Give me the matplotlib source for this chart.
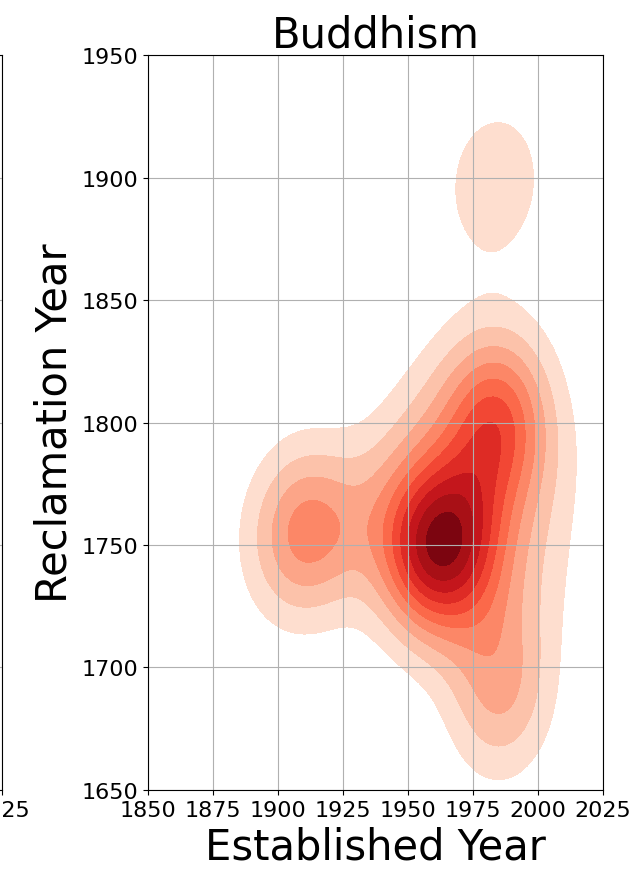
import matplotlib
matplotlib.use("Agg")
import matplotlib.pyplot as plt
import numpy as np
from matplotlib.ticker import MaxNLocator
from seaborn.external.kde import gaussian_kde

# hand-read sample of temples (established year, reclamation year)
established = [
    1950, 1953, 1955, 1957, 1958, 1960, 1961, 1963, 1964, 1965, 1967, 1955, 1960, 1962, 1966, 1970,
    1983, 1984, 1985, 1983, 1985, 1982, 1986, 1984,
    1972, 1978, 1980, 1976,
    1900, 1905, 1910, 1915, 1908, 1920, 1910, 1915,
    1932, 1940,
    1950, 1960, 1970, 1978, 1990,
    1975, 1982, 1985, 1988, 1990, 1980, 1985,
    2000, 2003, 2000,
    1979, 1983, 1988,
]
reclamation = [
    1745, 1755, 1750, 1740, 1752, 1758, 1748, 1745, 1752, 1755, 1740, 1762, 1735, 1750, 1748, 1760,
    1792, 1800, 1804, 1788, 1797, 1802, 1794, 1796,
    1765, 1760, 1750, 1740,
    1750, 1760, 1745, 1755, 1765, 1750, 1755, 1760,
    1758, 1770,
    1790, 1800, 1812, 1820, 1815,
    1715, 1700, 1688, 1678, 1695, 1725, 1688,
    1760, 1785, 1730,
    1898, 1896, 1899,
]

x_ticks = [1850, 1875, 1900, 1925, 1950, 1975, 2000, 2025]
y_ticks = [1650, 1700, 1750, 1800, 1850, 1900, 1950]

fig = plt.figure(figsize=(6.39, 8.78), dpi=100)

# neighbouring panel, mostly outside the crop
ax_prev = fig.add_axes([-0.7095, 0.0991, 0.7121, 0.8371])
ax_prev.set_xlim(1850, 2025)
ax_prev.set_ylim(1650, 1950)
ax_prev.set_xticks(x_ticks)
ax_prev.set_yticks(y_ticks)
ax_prev.tick_params(labelsize=16)
ax_prev.grid(True)

ax = fig.add_axes([0.2316, 0.0991, 0.7121, 0.8371])

# 2-D kde, 10 evenly spaced density levels, lowest band left empty
kde = gaussian_kde(np.vstack([established, reclamation]))
gx = np.linspace(1850, 2025, 200)
gy = np.linspace(1650, 1950, 200)
xx, yy = np.meshgrid(gx, gy)
zz = kde(np.vstack([xx.ravel(), yy.ravel()])).reshape(xx.shape)
levels = MaxNLocator(11, min_n_ticks=1).tick_values(zz.min(), zz.max())
ax.contourf(xx, yy, zz, levels=levels[1:], cmap="Reds",
            vmin=levels[0], vmax=levels[-1])

ax.set_xlim(1850, 2025)
ax.set_ylim(1650, 1950)
ax.set_xticks(x_ticks)
ax.set_yticks(y_ticks)
ax.tick_params(labelsize=16)
ax.grid(True)
ax.set_title("Buddhism", fontsize=30)
ax.set_xlabel("Established Year", fontsize=30)
ax.set_ylabel("Reclamation Year", fontsize=30)

fig.savefig("out.png", dpi=100)
